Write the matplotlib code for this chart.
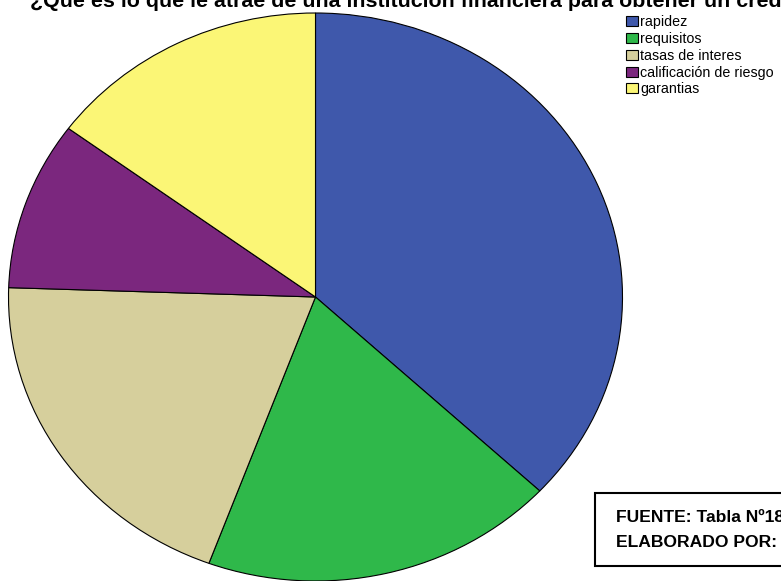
import matplotlib
matplotlib.use('Agg')
import matplotlib.pyplot as plt
from matplotlib.patches import Rectangle

plt.rcParams['font.family'] = ['Liberation Sans', 'DejaVu Sans']

labels = ['rapidez', 'requisitos', 'tasas de interes', 'calificación de riesgo', 'garantias']
values = [37.0, 18.7, 19.9, 9.6, 14.9]
colors = ['#3f58ab', '#2fb84a', '#d6cf9c', '#7b277e', '#fbf676']

title = '¿Que es lo que le atrae de una institución financiera para obtener un crédito?'

W, H = 781, 581
# the pie is a bit squashed vertically (rx 307 px, ry 284 px)
k = 307 / 284

fig = plt.figure(figsize=(W / 100, H / 100), dpi=100)
ax = fig.add_axes([0, 0, 1, 1])

wedges, _ = ax.pie(values, colors=colors, startangle=90, counterclock=False,
                   center=(315.5, 284 * k), radius=307,
                   wedgeprops=dict(edgecolor='black', linewidth=0.8))
ax.set_aspect('auto')
ax.set_xlim(0, W)
ax.set_ylim(0, H * k)
ax.axis('off')

fig.text(30 / W, 1 - 7 / H, title, fontsize=15.4, fontweight='bold',
         ha='left', va='baseline')

leg = fig.legend(wedges, labels, loc='upper left',
                 bbox_to_anchor=(626 / W, 1 - 15 / H),
                 frameon=False, fontsize=10.3, handlelength=0.85, handleheight=0.7,
                 handletextpad=0.15, labelspacing=0.2, borderpad=0, borderaxespad=0)
for h in leg.legend_handles:
    h.set_edgecolor('black')
    h.set_linewidth(0.8)

box = Rectangle((595 / W, 1 - 566 / H), 0.4, 73 / H, transform=fig.transFigure,
                facecolor='white', edgecolor='black', linewidth=1.5)
fig.patches.append(box)
fig.text(616 / W, 1 - 522 / H, 'FUENTE: Tabla Nº18', fontsize=12.6, fontweight='bold',
         ha='left', va='baseline')
fig.text(616 / W, 1 - 547 / H, 'ELABORADO POR:', fontsize=12.6, fontweight='bold',
         ha='left', va='baseline')

fig.savefig('out.png', dpi=100)
